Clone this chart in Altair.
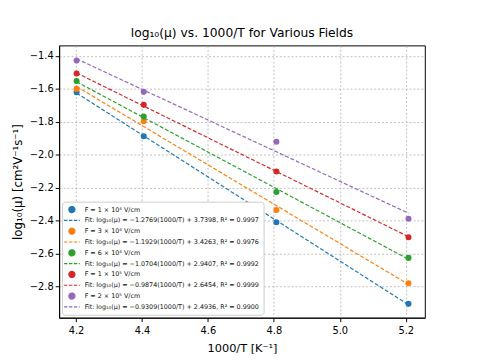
import altair as alt
import pandas as pd
import altair.utils.schemapi as sp

sp.DEBUG_MODE = False

inv_T = [4.2017, 4.4053, 4.8077, 5.2083]
series_labels = [
    "F = 1 × 10⁴ V/cm",
    "F = 3 × 10⁴ V/cm",
    "F = 6 × 10⁴ V/cm",
    "F = 1 × 10⁵ V/cm",
    "F = 2 × 10⁵ V/cm",
]
log_mu = [
    [-1.620, -1.887, -2.410, -2.905],
    [-1.600, -1.796, -2.335, -2.780],
    [-1.552, -1.768, -2.226, -2.626],
    [-1.507, -1.697, -2.101, -2.501],
    [-1.428, -1.618, -1.921, -2.388],
]
slopes = [-1.2769, -1.1929, -1.0704, -0.9874, -0.9309]
intercepts = [3.7398, 3.4263, 2.9407, 2.6454, 2.4936]
r2 = [0.9997, 0.9976, 0.9992, 0.9999, 0.9900]
colors = ["#1f77b4", "#ff7f0e", "#2ca02c", "#d62728", "#9467bd"]
x_ticks = [4.2, 4.4, 4.6, 4.8, 5.0, 5.2]
y_ticks = [-2.8, -2.6, -2.4, -2.2, -2.0, -1.8, -1.6, -1.4]

pts_rows, fit_rows, domain, crange = [], [], [], []
for i, lab in enumerate(series_labels):
    fit_lab = (f"Fit: log₁₀(μ) = −{abs(slopes[i]):.4f}(1000/T) + {intercepts[i]:.4f}, "
               f"R² = {r2[i]:.4f}")
    domain += [lab, fit_lab]
    crange += [colors[i], colors[i]]
    for x, y in zip(inv_T, log_mu[i]):
        pts_rows.append({"x": x, "y": y, "label": lab})
    for x in (inv_T[0], inv_T[-1]):
        fit_rows.append({"x": x, "y": slopes[i] * x + intercepts[i], "label": fit_lab, "s": i})

pts = pd.DataFrame(pts_rows)
fits = pd.DataFrame(fit_rows)

xs = alt.Scale(domain=[4.1487, 5.2578], nice=False, zero=False)
ys = alt.Scale(domain=[-2.989, -1.336], nice=False, zero=False)

x_axis = alt.Axis(values=x_ticks, format=".1f", title="1000/T [K⁻¹]", labelPadding=4, titlePadding=7,
                  titleFontSize=11.5)
y_axis = alt.Axis(values=y_ticks, format=".1f", title="log₁₀(μ) [cm²V⁻¹s⁻¹]",
                  labelOverlap=False, labelPadding=2, titlePadding=5, titleFontSize=12)

legend = alt.Legend(
    title=None,
    orient="bottom-left",
    offset=3,
    labelFontSize=6.5,
    labelFont="DejaVu Sans",
    labelColor="#111",
    labelLimit=300,
    rowPadding=1.0,
    symbolSize=256,
    symbolOffset=2,
    labelOffset=9,
    padding=4,
    fillColor="white",
    strokeColor="#cccccc",
    cornerRadius=3,
    symbolStrokeWidth=1.2,
    encode={
        "symbols": {
            "update": {
                "shape": {"signal": "datum.index % 2 ? 'stroke' : 'circle'"},
                "size": {"signal": "datum.index % 2 ? 256 : 38"},
                "strokeDash": {"signal": "datum.index % 2 ? [3.5, 1.5] : [1, 0]"},
                "stroke": {"signal": "datum.index % 2 ? scale('color', datum.value) : 'transparent'"},
                "fill": {"signal": "datum.index % 2 ? 'transparent' : scale('color', datum.value)"},
                "opacity": {"value": 1},
                "fillOpacity": {"value": 1},
                "strokeOpacity": {"value": 1},
                "strokeWidth": {"value": 1.2},
            }
        }
    },
)

color = alt.Color("label:N", scale=alt.Scale(domain=domain, range=crange), legend=legend, sort=domain)

lines = alt.Chart(fits).mark_line(strokeDash=[4, 2], strokeWidth=1.2).encode(
    x=alt.X("x:Q", scale=xs, axis=x_axis),
    y=alt.Y("y:Q", scale=ys, axis=y_axis),
    color=color,
    detail="s:N",
)

points = alt.Chart(pts).mark_circle(size=38, opacity=1).encode(
    x=alt.X("x:Q", scale=xs, axis=x_axis),
    y=alt.Y("y:Q", scale=ys, axis=y_axis),
    color=color,
)

chart = alt.layer(points, lines).properties(
    width=372,
    height=277,
    autosize=alt.AutoSizeParams(type="none"),
    padding={"left": 52, "top": 35, "right": 48, "bottom": 40},
    title=alt.Title("log₁₀(μ) vs. 1000/T for Various Fields", fontSize=12.5, fontWeight="normal",
                    font="DejaVu Sans", color="black", offset=6),
).configure_view(
    stroke="black", strokeWidth=1
).configure_axis(
    labelFont="DejaVu Sans", titleFont="DejaVu Sans", labelFontSize=10,
    titleFontWeight="normal", labelColor="black", titleColor="black",
    gridColor="#b0b0b0", gridDash=[2, 2], gridWidth=0.8,
    domainColor="black", tickColor="black", tickSize=4,
)

_orig_to_dict = type(chart).to_dict


def _to_dict_novalidate(*args, **kwargs):
    kwargs["validate"] = False
    return _orig_to_dict(chart, *args, **kwargs)


object.__setattr__(chart, "to_dict", _to_dict_novalidate)

chart.save("out.html", embed_options={"renderer": "svg", "actions": False})
